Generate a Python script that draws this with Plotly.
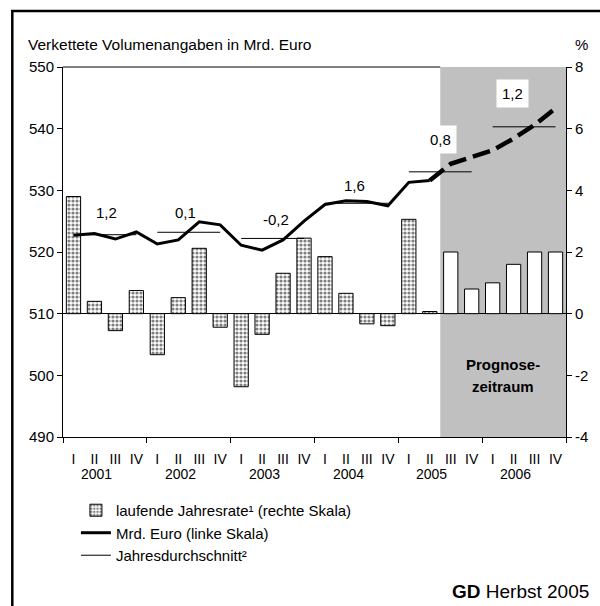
import plotly.graph_objects as go

# ---------------- data ----------------
quarter_labels = ["I", "II", "III", "IV"] * 6
years = ["2001", "2002", "2003", "2004", "2005", "2006"]
# laufende Jahresrate (%), right scale
rate = [3.8, 0.4, -0.55, 0.75, -1.33, 0.52, 2.12, -0.44,
        -2.37, -0.67, 1.31, 2.45, 1.85, 0.66, -0.33, -0.39,
        3.06, 0.07, 2.0, 0.8, 1.0, 1.6, 2.0, 2.0]
# Mrd. Euro, left scale
volume = [522.7, 523.0, 522.1, 523.25, 521.3, 521.95, 524.9, 524.4,
          521.1, 520.3, 521.95, 525.0, 527.7, 528.3, 528.2, 527.5,
          531.3, 531.6, 534.3, 535.4, 536.5, 538.4, 540.6, 543.3]
# Jahresdurchschnitt (Mrd. Euro) and annual growth labels
year_avg = [522.8, 523.2, 522.2, 527.9, 533.0, 540.3]
year_rate_text = ["1,2", "0,1", "-0,2", "1,6", "0,8", "1,2"]
forecast_start = 18  # first forecast quarter index (2005 III)

left_ticks = [490, 500, 510, 520, 530, 540, 550]
right_ticks = [-4, -2, 0, 2, 4, 6, 8]

FONT = "Liberation Sans, Arial, sans-serif"
NARROW = "Liberation Sans Narrow, Arial Narrow, Liberation Sans, Arial, sans-serif"

idx = list(range(len(rate)))
hist_idx = idx[:forecast_start]
fc_idx = idx[forecast_start:]

fig = go.Figure()

# bars (right scale, primary y axis)
fig.add_bar(
    x=hist_idx, y=rate[:forecast_start], width=0.68, yaxis="y",
    name="laufende Jahresrate¹ (rechte Skala)", legendgroup="g1",
    marker=dict(color="white", line=dict(color="black", width=1),
                pattern=dict(shape=".", fgcolor="black", bgcolor="white",
                             size=4, solidity=0.5)),
    hoverinfo="skip",
)
fig.add_bar(
    x=fc_idx, y=rate[forecast_start:], width=0.68, yaxis="y",
    showlegend=False, legendgroup="g1",
    marker=dict(color="white", line=dict(color="black", width=1)),
    hoverinfo="skip",
)

# volume line (left scale, overlay axis)
fig.add_scatter(
    x=idx[:forecast_start], y=volume[:forecast_start], yaxis="y2",
    mode="lines", line=dict(color="black", width=3),
    name="Mrd. Euro (linke Skala)", legendgroup="g2", hoverinfo="skip",
)
fig.add_scatter(
    x=idx[forecast_start - 1:], y=volume[forecast_start - 1:], yaxis="y2",
    mode="lines", line=dict(color="black", width=4.5, dash="18px,7px"),
    showlegend=False, legendgroup="g2", hoverinfo="skip",
)

# annual averages
avg_x, avg_y = [], []
for k, v in enumerate(year_avg):
    avg_x += [4 * k, 4 * k + 3, None]
    avg_y += [v, v, None]
fig.add_scatter(
    x=avg_x, y=avg_y, yaxis="y2", mode="lines",
    line=dict(color="black", width=1),
    name="Jahresdurchschnitt²", legendgroup="g3", hoverinfo="skip",
)

annotations = []
# growth labels above annual average lines
label_style = [  # (x offset in quarters, y shift px, boxed)
    (0.07, 22, False), (-0.15, 20, False), (0.14, 19, False),
    (-0.09, 18, False), (0.0, 32, True), (-0.56, 33, True),
]
for k, txt in enumerate(year_rate_text):
    dx, ys, boxed = label_style[k]
    a = dict(x=4 * k + 1.5 + dx, y=year_avg[k], xref="x", yref="y2",
             text=txt, showarrow=False, yshift=ys,
             font=dict(family=FONT, size=15, color="black"))
    if boxed:
        a.update(bgcolor="white", borderpad=5)
    annotations.append(a)

# year labels under the quarter labels
for k, yr in enumerate(years):
    annotations.append(dict(
        x=4 * k + 1.1, y=-0.1, xref="x", yref="paper", text=yr,
        showarrow=False, yanchor="middle",
        font=dict(family=NARROW, size=14, color="black")))

# forecast label
fc_center = (forecast_start - 0.5 + len(rate) - 0.5) / 2
annotations.append(dict(x=fc_center, y=-1.66, xref="x", yref="y",
                        text="<b>Prognose-</b>", showarrow=False,
                        font=dict(family=FONT, size=15, color="black")))
annotations.append(dict(x=fc_center, y=-2.37, xref="x", yref="y",
                        text="<b>zeitraum</b>", showarrow=False,
                        font=dict(family=FONT, size=15, color="black")))

# axis titles / source
annotations.append(dict(x=-0.0731, y=1.06, xref="paper", yref="paper",
                        xanchor="left", yanchor="middle",
                        text="Verkettete Volumenangaben in Mrd. Euro",
                        showarrow=False,
                        font=dict(family=FONT, size=15.5, color="black")))
annotations.append(dict(x=1.03, y=1.06, xref="paper", yref="paper",
                        xanchor="center", yanchor="middle", text="%",
                        showarrow=False,
                        font=dict(family=FONT, size=15, color="black")))
annotations.append(dict(x=0.770, y=-0.418, xref="paper", yref="paper",
                        xanchor="left", yanchor="middle",
                        text="<b>GD</b> Herbst 2005", showarrow=False,
                        font=dict(family=FONT, size=19, color="black")))

shapes = [
    # forecast shading
    dict(type="rect", xref="x", yref="paper",
         x0=forecast_start - 0.5, x1=len(rate) - 0.5, y0=0, y1=1,
         fillcolor="#C0C0C0", line=dict(width=0), layer="below"),
    # top frame of plot area (up to forecast area)
    dict(type="line", xref="x", yref="paper",
         x0=-0.5, x1=forecast_start - 0.5, y0=1, y1=1,
         line=dict(color="black", width=1)),
    # outer chart frame
    dict(type="rect", xref="paper", yref="paper",
         x0=-0.1008, x1=1.1, y0=-0.5, y1=1.1514,
         line=dict(color="black", width=2.5), fillcolor="rgba(0,0,0,0)"),
]

year_bounds = [4 * k - 0.5 for k in range(len(years) + 1)]

fig.update_layout(
    width=600, height=606,
    margin=dict(l=63, r=31, t=67, b=169),
    paper_bgcolor="white", plot_bgcolor="white",
    font=dict(family=FONT, size=15, color="black"),
    barmode="overlay",
    showlegend=True,
    legend=dict(x=0.0257, y=-0.154, xanchor="left", yanchor="top",
                traceorder="grouped", tracegroupgap=0,
                bgcolor="rgba(0,0,0,0)",
                font=dict(family=FONT, size=15, color="black")),
    xaxis=dict(range=[-0.5, len(rate) - 0.5], tickmode="array",
               tickvals=idx, ticktext=quarter_labels,
               ticks="outside", ticklen=9, tickcolor="rgba(0,0,0,0)",
               tickfont=dict(family=NARROW, size=14, color="black"),
               showline=True, linecolor="black", linewidth=1,
               showgrid=False, zeroline=False,
               minor=dict(tickmode="array", tickvals=year_bounds,
                          ticks="outside", ticklen=5, tickcolor="black",
                          tickwidth=1, showgrid=False)),
    yaxis=dict(side="right", range=[-4, 8], tickmode="array",
               tickvals=right_ticks, ticktext=[str(v) for v in right_ticks],
               ticks="outside", ticklen=5, tickcolor="black",
               showline=True, linecolor="black", linewidth=1,
               showgrid=False, zeroline=True, zerolinecolor="black",
               zerolinewidth=1,
               tickfont=dict(family=FONT, size=15, color="black")),
    yaxis2=dict(overlaying="y", side="left", range=[490, 550],
                tickmode="array", tickvals=left_ticks,
                ticks="outside", ticklen=5, tickcolor="black",
                showline=True, linecolor="black", linewidth=1,
                showgrid=False, zeroline=False,
                tickfont=dict(family=FONT, size=15, color="black")),
    annotations=annotations,
    shapes=shapes,
)

fig.write_html(
    "out.html",
    config={"displayModeBar": False},
    post_script="document.body.style.margin='0';document.body.style.overflow='hidden';",
)
